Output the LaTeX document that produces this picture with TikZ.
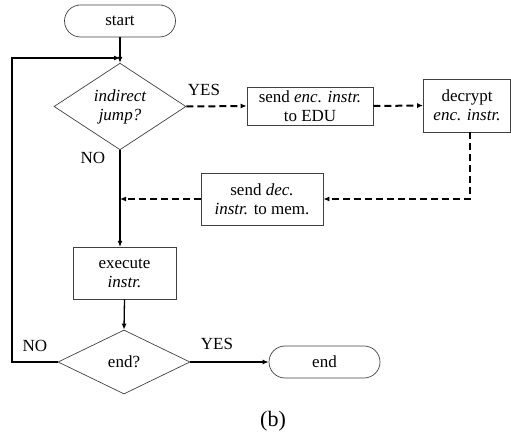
\documentclass[tikz,border=0pt]{standalone}
\usepackage{fontspec}
\setmainfont{Liberation Serif}
\usetikzlibrary{shapes.geometric,arrows.meta}
\begin{document}
\begin{tikzpicture}[x=1pt,y=-1pt,
  font=\fontsize{17}{19}\selectfont,
  box/.style={draw=black!75,line width=0.7pt,rectangle,inner sep=0pt,align=center},
  term/.style={draw=black!75,line width=0.7pt,rounded corners=16pt,inner sep=0pt},
  dia/.style={draw=black!75,line width=0.7pt,diamond,inner sep=0pt,align=center},
  flow/.style={line width=1.3pt,-{Latex[length=6pt,width=5pt]}},
  dflow/.style={line width=2pt,dash pattern=on 7pt off 4pt,-{Latex[length=6pt,width=5pt]}},
  lbl/.style={font=\fontsize{17}{19}\selectfont}]
\useasboundingbox (0,0) rectangle (511,435);
\node[term,minimum width=111pt,minimum height=32pt] (start) at (120,21) {start};
\node[dia,minimum width=132pt,minimum height=65pt] (ij) at (120,106.5) {\itshape indirect\\\itshape jump?};
\node[box,minimum width=126pt,minimum height=38pt] (send) at (310,106) {send \textit{enc. instr.}\\to EDU};
\node[box,minimum width=87pt,minimum height=53pt] (dec) at (467,105.5) {decrypt\\\textit{enc. instr.}};
\node[box,minimum width=122pt,minimum height=52pt] (mem) at (262,199) {send \textit{dec.}\\\textit{instr.} to mem.};
\node[box,minimum width=103pt,minimum height=52pt] (exec) at (124.5,273) {execute\\\textit{instr.}};
\node[dia,minimum width=132pt,minimum height=64pt] (endq) at (124,362) {end?};
\node[term,minimum width=111pt,minimum height=32pt] (end) at (324.5,362) {end};
\node (b) at (273,421) {\fontsize{22}{24}\selectfont (b)};
\node[lbl] at (204,90) {YES};
\node[lbl] at (93,158) {NO};
\node[lbl] at (35,346) {NO};
\node[lbl] at (217,344) {YES};
\coordinate (j1) at (120,58);
\coordinate (j2) at (120,199);
\draw[line width=1.3pt] (start.south) -- (j1);
\draw[flow] (j1) -- (ij.north);
\draw[dflow] (ij.east) -- (send.west);
\draw[dflow] (send.east) -- (dec.west);
\draw[dflow] (dec.south -| 470,0) |- (mem.east);
\draw[dflow] (mem.west) -- (j2);
\draw[flow] (ij.south) -- (120,247);
\draw[flow] (exec.south) -- (endq.north);
\draw[flow] (endq.east) -- (end.west);
\draw[flow] (endq.west) -- (12,362) -- (12,58) -- (j1);
\end{tikzpicture}
\end{document}
